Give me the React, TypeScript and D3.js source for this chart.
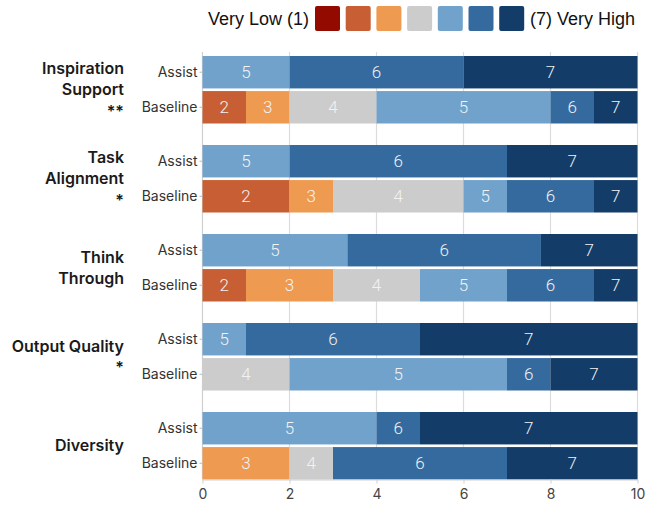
import * as React from 'react'
import { useEffect, useRef } from 'react'
import * as d3 from 'd3'

const categories = ['Inspiration Support', 'Task Alignment', 'Think Through', 'Output Quality', 'Diversity']
const categoryLines = [['Inspiration', 'Support', '**'], ['Task', 'Alignment', '*'], ['Think', 'Through'], ['Output Quality', '*'], ['Diversity']]
const conditions = ['Assist', 'Baseline']
const levels = ['1', '2', '3', '4', '5', '6', '7']
const levelColors = ['#930a00', '#c85e33', '#ee9a50', '#cccccc', '#70a2cb', '#356a9f', '#133d68']

// counts per level 1..7
const assistValues = [
  [0, 0, 0, 0, 2, 4, 4],
  [0, 0, 0, 0, 2, 5, 3],
  [0, 0, 0, 0, 3.33, 4.45, 2.22],
  [0, 0, 0, 0, 1, 4, 5],
  [0, 0, 0, 0, 4, 1, 5],
]
const baselineValues = [
  [0, 1, 1, 2, 4, 1, 1],
  [0, 2, 1, 3, 1, 2, 1],
  [0, 1, 2, 2, 2, 2, 1],
  [0, 0, 0, 2, 5, 1, 2],
  [0, 0, 2, 1, 0, 4, 3],
]
const xTicks = [0, 2, 4, 6, 8, 10]

const W = 652
const H = 506

const App = () => {
  const ref = useRef<SVGSVGElement | null>(null)

  useEffect(() => {
    const svg = d3.select(ref.current)
    svg.selectAll('*').remove()

    const x = d3.scaleLinear().domain([0, 10]).range([202.5, 637.5])
    const yGroup = d3.scaleBand().domain(categories).range([56, 501]).paddingInner(0).paddingOuter(0)
    const yCond = d3.scaleBand().domain(conditions).range([0, 67.5]).paddingInner(0.075)

    const rows: any[] = []
    categories.forEach((c, i) => {
      const a: any = { cat: c, cond: 'Assist' }
      const b: any = { cat: c, cond: 'Baseline' }
      levels.forEach((l, j) => { a[l] = assistValues[i][j]; b[l] = baselineValues[i][j] })
      rows.push(a, b)
    })
    const series = d3.stack().keys(levels)(rows)

    const plotTop = 56
    const plotBottom = yGroup('Diversity')! + 67.5

    // grid
    svg.append('g').selectAll('line').data(xTicks.slice(1)).enter().append('line')
      .attr('x1', d => x(d)).attr('x2', d => x(d))
      .attr('y1', plotTop - 4).attr('y2', plotBottom)
      .attr('stroke', '#dcdcdc').attr('stroke-width', 1.2)

    // left axis line
    svg.append('line').attr('x1', x(0)).attr('x2', x(0)).attr('y1', plotTop - 4).attr('y2', plotBottom)
      .attr('stroke', '#cfcfcf').attr('stroke-width', 1.2)

    const g = svg.append('g')
    series.forEach((s, si) => {
      s.forEach((d: any) => {
        const w = x(d[1]) - x(d[0])
        if (w <= 0) return
        const y0 = yGroup(d.data.cat)! + yCond(d.data.cond)!
        g.append('rect')
          .attr('x', x(d[0])).attr('y', y0)
          .attr('width', w).attr('height', yCond.bandwidth())
          .attr('fill', levelColors[si])
        g.append('text')
          .attr('x', (x(d[0]) + x(d[1])) / 2).attr('y', y0 + yCond.bandwidth() / 2)
          .attr('dy', '0.36em').attr('text-anchor', 'middle')
          .attr('fill', '#f2f2f2').attr('font-size', 17).attr('font-weight', 300)
          .attr('font-family', 'Roboto, sans-serif')
          .text(levels[si])
      })
    })

    // x axis
    const xa = svg.append('g').attr('transform', `translate(0,${plotBottom})`)
      .call(d3.axisBottom(x).tickValues(xTicks).tickSize(4).tickSizeOuter(0))
    xa.select('.domain').attr('stroke', '#cfcfcf').attr('stroke-width', 1.2)
    xa.selectAll('.tick line').attr('stroke', '#cfcfcf')
    xa.selectAll('.tick text').attr('fill', '#444').attr('font-size', 14)
      .attr('font-family', 'Inter, sans-serif').attr('dy', '0.9em')

    // condition labels
    categories.forEach(c => {
      conditions.forEach(cd => {
        const yc = yGroup(c)! + yCond(cd)! + yCond.bandwidth() / 2
        svg.append('line').attr('x1', x(0) - 3).attr('x2', x(0)).attr('y1', yc).attr('y2', yc).attr('stroke', '#bbb')
        svg.append('text').attr('x', x(0) - 5).attr('y', yc).attr('dy', '0.35em')
          .attr('text-anchor', 'end').attr('font-size', 14).attr('fill', '#333')
          .attr('font-family', 'Inter, sans-serif').text(cd)
      })
    })

    // category labels
    categories.forEach((c, i) => {
      const lines = categoryLines[i]
      const cy = yGroup(c)! + 67.5 / 2
      const lh = 21.5
      const t = svg.append('text').attr('text-anchor', 'end').attr('font-size', 16)
        .attr('font-weight', 600).attr('fill', '#1a1a1a').attr('font-family', 'Inter, sans-serif')
      lines.forEach((ln, k) => {
        t.append('tspan').attr('x', 124).attr('y', cy + (k - (lines.length - 1) / 2) * lh).attr('dy', '0.35em').text(ln)
      })
    })

    // legend
    const lg = svg.append('g')
    lg.append('text').attr('x', 309).attr('y', 19).attr('dy', '0.35em').attr('text-anchor', 'end')
      .attr('font-size', 18).attr('font-family', 'Liberation Sans, Arial, sans-serif').attr('fill', '#111')
      .text('Very Low (1)')
    lg.selectAll('rect').data(levelColors).enter().append('rect')
      .attr('x', (d, i) => 315 + i * 30.7).attr('y', 6).attr('width', 25).attr('height', 25)
      .attr('rx', 2).attr('fill', d => d)
    lg.append('text').attr('x', 530).attr('y', 19).attr('dy', '0.35em')
      .attr('font-size', 18).attr('font-family', 'Liberation Sans, Arial, sans-serif').attr('fill', '#111')
      .text('(7) Very High')
  }, [])

  return (
    <svg ref={ref} width={W} height={H}
      style={{ position: 'absolute', left: 0, top: 0, background: '#fff', display: 'block' }} />
  )
}

export default App
